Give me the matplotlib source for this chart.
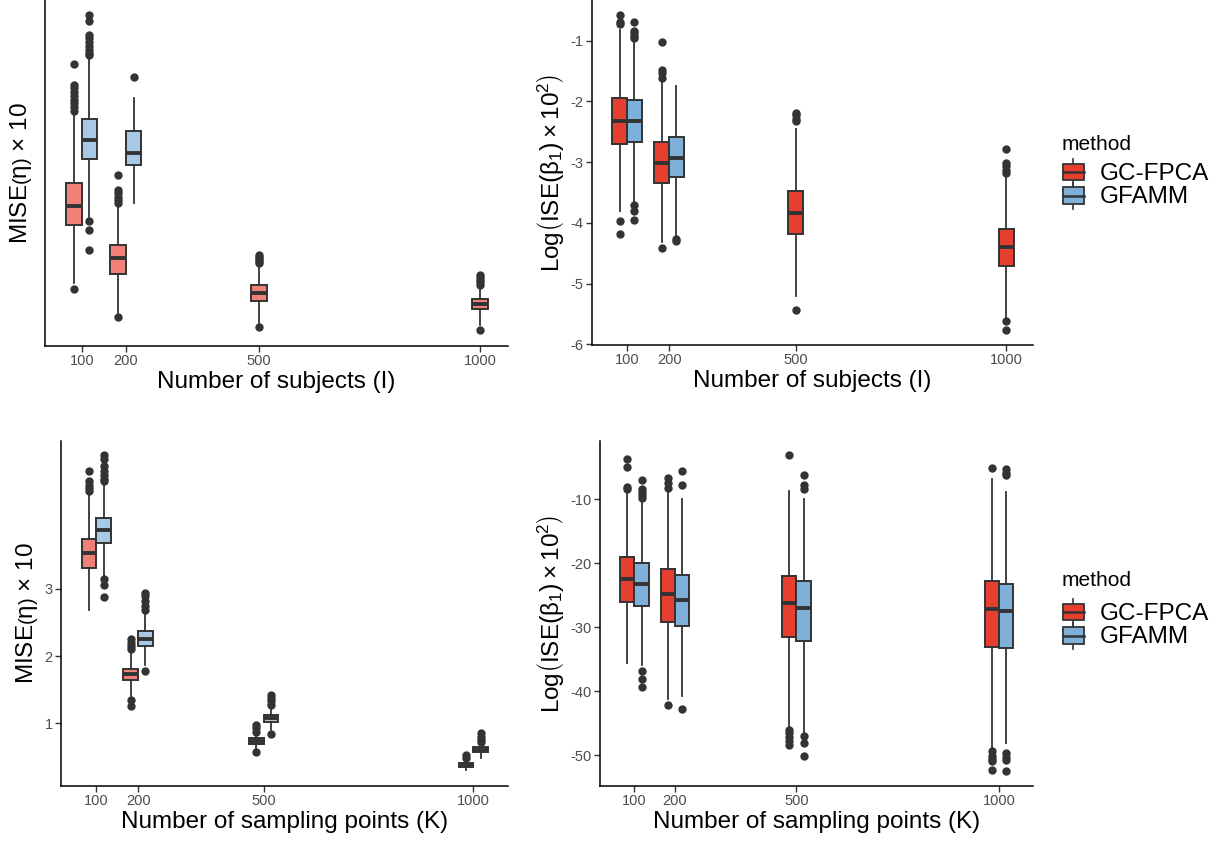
import numpy as np
import matplotlib
matplotlib.use("Agg")
import matplotlib.pyplot as plt
from matplotlib.legend_handler import HandlerBase
from matplotlib.patches import Rectangle
from matplotlib.lines import Line2D

plt.rcParams['font.family'] = ['Liberation Sans', 'DejaVu Sans']
plt.rcParams['mathtext.fontset'] = 'custom'
plt.rcParams['mathtext.rm'] = 'Liberation Sans'
plt.rcParams['mathtext.it'] = 'Liberation Sans:italic'
plt.rcParams['axes.unicode_minus'] = False

sizes = [100, 200, 500, 1000]
methods = ["GC-FPCA", "GFAMM"]

# top-left: MISE(eta) x 10 vs number of subjects (I); y scale has no breaks
tl_gc = dict(q1=[2.42, 1.43, 0.90, 0.73], med=[2.79, 1.75, 1.05, 0.84],
             q3=[3.25, 2.01, 1.21, 0.93], lo=[1.26, 0.66, 0.46, 0.42],
             hi=[4.62, 2.78, 1.59, 1.15],
             out=[[5.64, 5.22, 5.15, 5.08, 5.0, 4.92, 4.85, 4.78, 4.70, 1.13],
                  [3.42, 3.12, 3.06, 2.98, 2.92, 2.86, 0.58],
                  [1.82, 1.78, 1.74, 1.70, 1.66, 0.38],
                  [1.42, 1.37, 1.32, 1.27, 1.22, 0.32]])
tl_gf = dict(q1=[3.73, 3.62, None, None], med=[4.12, 3.85, None, None],
             q3=[4.54, 4.29, None, None], lo=[2.56, 2.85, None, None],
             hi=[5.76, 4.95, None, None],
             out=[[6.62, 6.49, 6.22, 6.15, 6.08, 6.0, 5.92, 5.86, 5.82, 2.49, 2.32, 1.91],
                  [5.37], [], []])

# top-right: Log(ISE(beta1) x 10^2) vs number of subjects (I)
tr_gc = dict(q1=[-2.70, -3.35, -4.19, -4.71], med=[-2.32, -3.01, -3.83, -4.40],
             q3=[-1.94, -2.67, -3.48, -4.10], lo=[-3.80, -4.31, -5.20, -5.57],
             hi=[-0.82, -1.68, -2.46, -3.24],
             out=[[-0.58, -0.69, -0.73, -3.97, -4.19],
                  [-1.02, -1.48, -1.54, -1.62, -4.41],
                  [-2.19, -2.22, -2.29, -2.33, -5.43],
                  [-2.78, -3.01, -3.06, -3.13, -3.18, -5.62, -5.76]])
tr_gf = dict(q1=[-2.66, -3.24, None, None], med=[-2.32, -2.93, None, None],
             q3=[-1.98, -2.58, None, None], lo=[-3.65, -4.23, None, None],
             hi=[-0.99, -1.75, None, None],
             out=[[-0.69, -0.84, -0.88, -0.92, -0.96, -3.71, -3.80, -3.95],
                  [-4.27, -4.30], [], []])

# bottom-left: MISE(eta) x 10 vs number of sampling points (K)
bl_gc = dict(q1=[3.31, 1.64, 0.70, 0.35], med=[3.53, 1.73, 0.74, 0.38],
             q3=[3.75, 1.81, 0.78, 0.41], lo=[2.69, 1.40, 0.61, 0.31],
             hi=[4.40, 2.06, 0.86, 0.46],
             out=[[4.76, 4.60, 4.55, 4.50, 4.45],
                  [2.25, 2.20, 2.15, 2.10, 1.35, 1.26],
                  [0.98, 0.93, 0.88, 0.57],
                  [0.53, 0.48]])
bl_gf = dict(q1=[3.69, 2.15, 1.02, 0.57], med=[3.87, 2.26, 1.08, 0.61],
             q3=[4.05, 2.37, 1.13, 0.65], lo=[3.19, 1.87, 0.91, 0.48],
             hi=[4.58, 2.64, 1.23, 0.71],
             out=[[4.99, 4.93, 4.83, 4.76, 4.69, 4.63, 4.60, 3.15, 3.06, 2.88],
                  [2.94, 2.89, 2.82, 2.75, 2.69, 1.78],
                  [1.43, 1.38, 1.33, 1.28, 0.85],
                  [0.86, 0.80, 0.76, 0.73]])

# bottom-right: Log(ISE(beta1) x 10^2) vs number of sampling points (K)
br_gc = dict(q1=[-26.0, -29.24, -31.54, -33.16], med=[-22.49, -24.85, -26.15, -27.14],
             q3=[-18.94, -20.87, -22.02, -22.70], lo=[-35.6, -41.26, -45.81, -48.94],
             hi=[-8.85, -8.85, -8.69, -6.86],
             out=[[-3.73, -4.93, -8.07, -8.43],
                  [-6.60, -7.39, -8.17, -42.15],
                  [-3.10, -46.1, -46.6, -47.2, -47.8, -48.4],
                  [-5.03, -49.3, -50.2, -50.7, -51.0, -52.3]])
br_gf = dict(q1=[-26.73, -29.76, -32.16, -33.27], med=[-23.17, -25.68, -26.99, -27.51],
             q3=[-19.93, -21.76, -22.70, -23.17], lo=[-35.88, -40.84, -46.59, -48.16],
             hi=[-10.0, -10.0, -10.0, -8.80],
             out=[[-6.97, -8.43, -8.9, -9.3, -9.74, -36.92, -38.07, -39.43],
                  [-5.56, -7.75, -42.83],
                  [-6.24, -7.80, -8.43, -47.01, -48.05, -50.15],
                  [-5.30, -5.82, -6.24, -49.62, -50.25, -50.77, -52.45]])

light_cols = ["#F08078", "#A7C9E6"]
dark_cols = ["#E53F30", "#7FB0D9"]
edge = "#333333"
box_w = 35
offset = 17.5

mise_label = r"MISE$\left(\mathrm{\eta}\right)$ × 10"
ise_label = r"Log$\left(\mathrm{ISE}\left(\mathrm{\beta}_1\right) \times 10^2\right)$"


def draw_boxes(ax, groups, cols):
    for gi, (g, col) in enumerate(zip(groups, cols)):
        for i, s in enumerate(sizes):
            if g["med"][i] is None:
                continue
            other = groups[1 - gi]
            paired = other["med"][i] is not None
            pos = s + (offset * (1 if gi else -1) if paired else 0)
            st = dict(med=g["med"][i], q1=g["q1"][i], q3=g["q3"][i],
                      whislo=g["lo"][i], whishi=g["hi"][i], fliers=g["out"][i])
            ax.bxp([st], positions=[pos], widths=box_w, patch_artist=True,
                   showcaps=False, manage_ticks=False,
                   boxprops=dict(facecolor=col, edgecolor=edge, linewidth=1.4),
                   whiskerprops=dict(color=edge, linewidth=1.3),
                   medianprops=dict(color=edge, linewidth=2.8),
                   flierprops=dict(marker="o", markerfacecolor=edge,
                                   markeredgecolor=edge, markersize=5))


class BoxHandler(HandlerBase):
    def create_artists(self, legend, orig, xd, yd, w, h, fontsize, trans):
        fc = orig.get_facecolor()
        cx = xd + w / 2
        arts = [Line2D([cx, cx], [yd - 0.3 * h, yd + 1.3 * h], color=edge, lw=1.2),
                Rectangle((xd, yd), w, h, facecolor=fc, edgecolor=edge, lw=1.3),
                Line2D([xd, xd + w], [yd + h / 2, yd + h / 2], color=edge, lw=1.8)]
        for a in arts:
            a.set_transform(trans)
        return arts


def style(ax, xlim, ylim, xlabel, ylabel):
    ax.set_xlim(*xlim)
    ax.set_ylim(*ylim)
    ax.set_xticks(sizes)
    for sp in ["top", "right"]:
        ax.spines[sp].set_visible(False)
    for sp in ["left", "bottom"]:
        ax.spines[sp].set_linewidth(1.1)
        ax.spines[sp].set_color("black")
    ax.tick_params(length=4, width=1.0, color=edge, labelsize=10.5,
                   labelcolor="#4D4D4D", pad=2)
    ax.set_xlabel(xlabel, fontsize=17.5, labelpad=2)
    ax.set_ylabel(ylabel, fontsize=17.5, labelpad=3)


W, H = 1218, 841


def add_legend(fig, cols, title_y, top_y):
    handles = [Rectangle((0, 0), 1, 1, facecolor=c) for c in cols]
    fig.text(1062 / W, 1 - title_y / H, "method", fontsize=15, va="center", ha="left")
    fig.legend(handles, methods, loc="upper left",
               bbox_to_anchor=(1063 / W, 1 - top_y / H), frameon=False, fontsize=17.5,
               handler_map={Rectangle: BoxHandler()}, borderpad=0, borderaxespad=0,
               handlelength=0.86, handleheight=0.66, handletextpad=0.66,
               labelspacing=0.06)


fig = plt.figure(figsize=(12.18, 8.41), dpi=100)
ax_tl = fig.add_axes([0.0369, 0.5886, 0.3802, 0.4114])
ax_tr = fig.add_axes([0.4860, 0.5898, 0.3621, 0.4102])
ax_bl = fig.add_axes([0.0501, 0.0654, 0.3670, 0.4102])
ax_br = fig.add_axes([0.4926, 0.0654, 0.3555, 0.4102])

draw_boxes(ax_tl, [tl_gc, tl_gf], light_cols)
style(ax_tl, (17, 1063), (0, 6.92), "Number of subjects (I)", mise_label)
ax_tl.set_yticks([])
ax_tl.yaxis.labelpad = 8

draw_boxes(ax_tr, [tr_gc, tr_gf], dark_cols)
style(ax_tr, (17, 1063), (-6.01, -0.33), "Number of subjects (I)", ise_label)
ax_tr.set_yticks([-1, -2, -3, -4, -5, -6])
add_legend(fig, dark_cols, 145, 163)

draw_boxes(ax_bl, [bl_gc, bl_gf], light_cols)
style(ax_bl, (16, 1083), (0.07, 5.2), "Number of sampling points (K)", mise_label)
ax_bl.set_yticks([1, 2, 3])

draw_boxes(ax_br, [br_gc, br_gf], dark_cols)
style(ax_br, (15, 1084), (-54.85, -0.85), "Number of sampling points (K)", ise_label)
ax_br.set_yticks([-10, -20, -30, -40, -50])
add_legend(fig, dark_cols, 581, 603)

fig.savefig("out.png", dpi=100)
